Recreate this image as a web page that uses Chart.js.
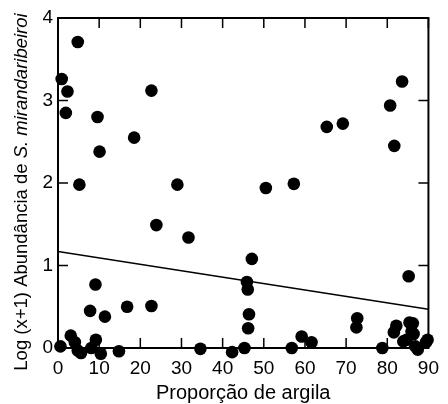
<!DOCTYPE html>
<html>
<head>
<meta charset="utf-8">
<script src="https://cdn.jsdelivr.net/npm/chart.js@4"></script>
<style>
  html, body { margin: 0; padding: 0; background: #fff; }
  #wrap { width: 448px; height: 404px; }
</style>
</head>
<body>
<div id="wrap"><canvas id="chart" width="448" height="404"></canvas></div>
<script>
// values
const clayX = [4.8, 0.9, 2.3, 22.7, 1.9, 9.6, 18.5, 10.1, 5.2, 29.0, 23.9, 31.7,
  83.6, 80.7, 65.3, 69.2, 81.7, 50.5, 57.3, 47.1, 45.9, 46.1, 46.4, 46.2, 85.2,
  72.7, 72.5, 9.1, 7.8, 11.4, 16.8, 22.7,
  3.1, 4.1, 0.6, 1.4, 4.8, 5.6, 8.1, 9.2, 10.4, 11.2, 14.8, 34.6, 42.3, 45.3,
  56.8, 59.2, 61.6,
  78.8, 78.6, 81.6, 81.6, 82.2, 83.9, 84.7, 85.4, 86.2, 85.9, 86.4, 85.4, 86.8,
  87.4, 89.8, 89.4];
const abundY = [3.71, 3.26, 3.11, 3.12, 2.85, 2.80, 2.55, 2.38, 1.98, 1.98, 1.49, 1.34,
  3.23, 2.94, 2.68, 2.72, 2.45, 1.94, 1.99, 1.08, 0.80, 0.71, 0.41, 0.24, 0.87,
  0.36, 0.25, 0.77, 0.45, 0.38, 0.50, 0.51,
  0.15, 0.07, 0.02, -0.10, -0.03, -0.06, 0.00, 0.10, -0.07, -0.10, -0.04, -0.01, -0.05, 0.00,
  0.00, 0.14, 0.07,
  0.00, -0.11, -0.08, 0.19, 0.27, 0.08, 0.10, 0.31, 0.30, 0.20, 0.17, -0.10, 0.02,
  -0.02, 0.10, 0.07];
const fitX = [0, 90];
const fitY = [1.17, 0.47];
const xTicks = [0, 10, 20, 30, 40, 50, 60, 70, 80, 90];
const yTicks = [0, 1, 2, 3, 4];

const xTitle = "Proporção de argila";
const yTitleA = "Log (x+1) Abundância de ";
const yTitleB = "S. mirandaribeiroi";

const FONT = "'Liberation Sans', Arial, sans-serif";

// frame, inward ticks and axis titles
const framePlugin = {
  id: "frame",
  afterDatasetsDraw(chart) {
    const { ctx, chartArea: a, scales } = chart;
    ctx.save();
    ctx.strokeStyle = "#000";
    ctx.lineWidth = 2;
    ctx.strokeRect(a.left, a.top, a.right - a.left, a.bottom - a.top);
    ctx.lineWidth = 1.5;
    ctx.beginPath();
    xTicks.forEach(v => {
      const px = scales.x.getPixelForValue(v);
      ctx.moveTo(px, a.bottom); ctx.lineTo(px, a.bottom - 10);
      ctx.moveTo(px, a.top); ctx.lineTo(px, a.top + 10);
    });
    yTicks.forEach(v => {
      const py = scales.y.getPixelForValue(v);
      ctx.moveTo(a.left, py); ctx.lineTo(a.left + 10, py);
      ctx.moveTo(a.right, py); ctx.lineTo(a.right - 10, py);
    });
    ctx.stroke();

    ctx.fillStyle = "#000";
    ctx.textBaseline = "alphabetic";
    ctx.textAlign = "center";
    ctx.font = "20px " + FONT;
    ctx.fillText(xTitle, (a.left + a.right) / 2, 399);

    // y title: plain part + italic species name
    const fA = "18.5px " + FONT, fB = "italic 18.5px " + FONT;
    ctx.font = fA; const wA = ctx.measureText(yTitleA).width;
    ctx.font = fB; const wB = ctx.measureText(yTitleB).width;
    const cy = (a.top + a.bottom) / 2 + 9;
    ctx.translate(27, cy);
    ctx.rotate(-Math.PI / 2);
    ctx.textAlign = "left";
    ctx.font = fA; ctx.fillText(yTitleA, -(wA + wB) / 2, 0);
    ctx.font = fB; ctx.fillText(yTitleB, -(wA + wB) / 2 + wA, 0);
    ctx.restore();
  }
};

const ctx = document.getElementById("chart").getContext("2d");
new Chart(ctx, {
  type: "scatter",
  data: {
    datasets: [
      {
        label: "fit",
        type: "line",
        data: fitX.map((x, i) => ({ x: x, y: fitY[i] })),
        borderColor: "#000",
        borderWidth: 1.5,
        pointRadius: 0,
        fill: false
      },
      {
        label: "amostras",
        data: clayX.map((x, i) => ({ x: x, y: abundY[i] })),
        backgroundColor: "#000",
        borderColor: "#000",
        borderWidth: 0,
        pointRadius: 6.3,
        clip: false
      }
    ]
  },
  options: {
    responsive: false,
    animation: false,
    layout: { padding: { left: 0, right: 12, top: 18, bottom: 0 } },
    plugins: {
      legend: { display: false },
      tooltip: { enabled: false }
    },
    scales: {
      x: {
        type: "linear",
        min: 0, max: 90,
        afterFit: s => { s.height = 56; },
        afterBuildTicks: s => { s.ticks = xTicks.map(v => ({ value: v })); },
        grid: { display: false, drawTicks: false },
        border: { display: false },
        ticks: { color: "#000", padding: 9, maxRotation: 0, font: { family: FONT, size: 19 } }
      },
      y: {
        type: "linear",
        min: 0, max: 4,
        afterFit: s => { s.width = 58; },
        afterBuildTicks: s => { s.ticks = yTicks.map(v => ({ value: v })); },
        grid: { display: false, drawTicks: false },
        border: { display: false },
        ticks: { color: "#000", padding: 5, font: { family: FONT, size: 19 } }
      }
    }
  },
  plugins: [framePlugin]
});
</script>
</body>
</html>
